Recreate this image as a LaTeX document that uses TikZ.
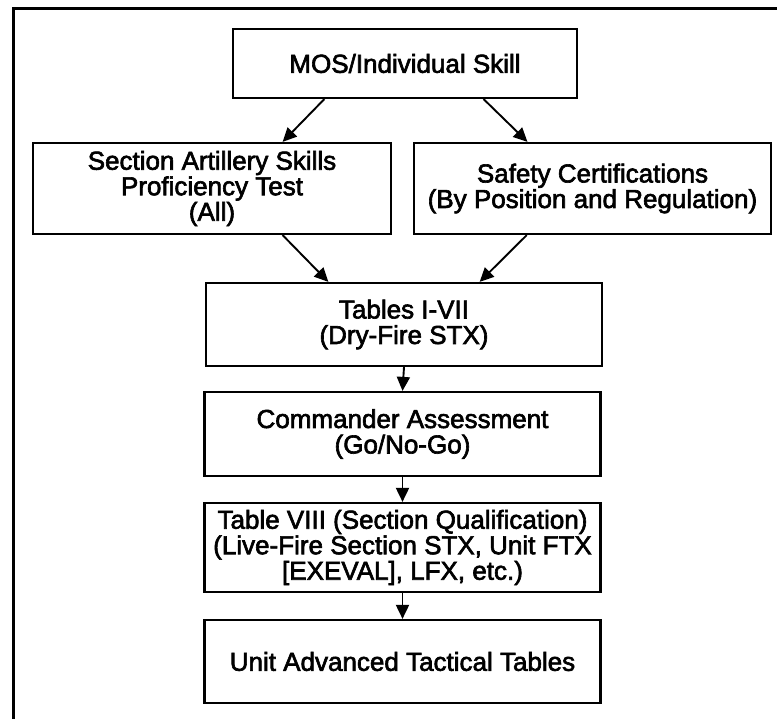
\documentclass[tikz,border=0pt]{standalone}
\usepackage{fontspec}
\setmainfont{Liberation Sans}[FakeBold=2.4]
\usetikzlibrary{arrows.meta,calc}

\begin{document}
\begin{tikzpicture}[x=1pt, y=-1pt,
    box/.style={draw, line width=2.2pt, inner sep=0pt, align=center, font=\fontsize{26}{25.5}\selectfont},
    wide/.style={box, minimum width=396pt},
    arr/.style={-{Triangle[length=14pt, width=13pt]}, line width=1.9pt}]
    \useasboundingbox (0,0) rectangle (777,719);
    % frame
    \draw[line width=3pt] (13,719) -- (13,9) -- (777,9);
    % boxes
    \node[box, minimum width=344pt, minimum height=69pt] (mos) at (405,63.5) {MOS/Individual Skill};
    \node[box, minimum width=358pt, minimum height=91pt] (sasp) at (212,188.5) {Section Artillery Skills\\Proficiency Test\\(All)};
    \node[box, minimum width=357pt, minimum height=91pt] (safety) at (592.5,188.5) {Safety Certifications\\(By Position and Regulation)};
    \node[wide, minimum height=83pt] (tables) at (404,324.5) {Tables I-VII\\(Dry-Fire STX)};
    \node[wide, minimum height=84pt] (cmdr) at (402.5,434) {Commander Assessment\\(Go/No-Go)};
    \node[wide, minimum height=89pt] (qual) at (402.5,547.5) {Table VIII (Section Qualification)\\(Live-Fire Section STX, Unit FTX\\{[EXEVAL]}, LFX, etc.)};
    \node[wide, minimum height=83pt] (unit) at (402.5,661.5) {Unit Advanced Tactical Tables};
    % arrows
    \draw[arr] ($(mos.south west)!0.267!(mos.south east)$) -- ($(sasp.north west)!0.696!(sasp.north east)$);
    \draw[arr] ($(mos.south west)!0.727!(mos.south east)$) -- ($(safety.north west)!0.319!(safety.north east)$);
    \draw[arr] ($(sasp.south west)!0.696!(sasp.south east)$) -- ($(tables.north west)!0.31!(tables.north east)$);
    \draw[arr] ($(safety.south west)!0.317!(safety.south east)$) -- ($(tables.north west)!0.69!(tables.north east)$);
    \draw[arr] (tables.south) -- (cmdr.north);
    \draw[arr] (cmdr.south) -- (qual.north);
    \draw[arr] (qual.south) -- (unit.north);
\end{tikzpicture}
\end{document}
